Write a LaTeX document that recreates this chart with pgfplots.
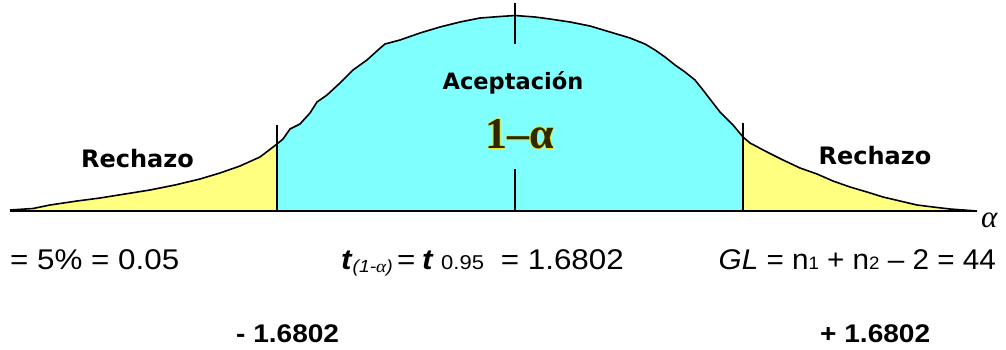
\documentclass[border=0pt]{standalone}
\usepackage{pgfplots}
\pgfplotsset{compat=1.18}
\usepackage{fontspec}
\setmainfont{Liberation Sans}
\newfontfamily\dvb{DejaVu Sans}
\newfontfamily\lserif{Liberation Serif}
\usepackage{graphicx}
\definecolor{cyanfill}{RGB}{128,255,255}
\definecolor{yelfill}{RGB}{255,255,128}
\definecolor{olivetxt}{RGB}{45,40,0}
\definecolor{glow}{RGB}{230,230,50}
\newcommand{\onealpha}{\lserif\bfseries\fontsize{44}{46}\selectfont 1–α}
\newcommand{\rowone}{\fontsize{28.5}{30}\selectfont}

\pgfplotstableread{
x y
10 211
10 210
33 208.5
50 205
77 201
100 198
125 194
150 190
175 185
200 179
220 173
240 166
260 157
277 144
277 211
}\lefttail
\pgfplotstableread{
x y
277 211
277 144
283 139
290 129
300 124
310 113
317 102
327 95
340 83
353 70
367 60
378 50
385 44
400 40
420 33
440 27
460 22
480 18
500 16.5
515 15.5
535 17
550 19
570 22
590 26
610 32
630 38
645 44
655 50
665 57
675 65
685 72
695 80
703 90
713 103
720 112
733 125
743 137
743 211
}\middlepart
\pgfplotstableread{
x y
743 211
743 137
750 143
767 152
783 160
800 168
817 174
833 181
850 187
867 192
883 197
900 201
917 205
933 207
950 209
977 211
}\righttail
\pgfplotstableread{
x y
10 210
33 208.5
50 205
77 201
100 198
125 194
150 190
175 185
200 179
220 173
240 166
260 157
277 144
283 139
290 129
300 124
310 113
317 102
327 95
340 83
353 70
367 60
378 50
385 44
400 40
420 33
440 27
460 22
480 18
500 16.5
515 15.5
535 17
550 19
570 22
590 26
610 32
630 38
645 44
655 50
665 57
675 65
685 72
695 80
703 90
713 103
720 112
733 125
743 137
750 143
767 152
783 160
800 168
817 174
833 181
850 187
867 192
883 197
900 201
917 205
933 207
950 209
977 211
}\curve

\begin{document}
\begin{tikzpicture}
\begin{axis}[
  x=1pt, y=1pt, scale only axis,
  xmin=0, xmax=1006, ymin=0, ymax=349,
  y dir=reverse, hide axis, clip=false,
]
\path (rel axis cs:0,0) rectangle (rel axis cs:1,1);
\addplot[fill=yelfill, draw=none] table {\lefttail};
\addplot[fill=cyanfill, draw=none] table {\middlepart};
\addplot[fill=yelfill, draw=none] table {\righttail};
\addplot[black, line width=1.6pt] table {\curve};
% baseline
\addplot[black, line width=2.2pt] coordinates {(10,211) (977,211)};
% vertical lines
\addplot[black, line width=1.3pt] coordinates {(277,211) (277,125)};
\addplot[black, line width=1.3pt] coordinates {(743,211) (743,123)};
\addplot[black, line width=1.3pt] coordinates {(515,3) (515,44)};
\addplot[black, line width=1.3pt] coordinates {(515,169) (515,211)};

% region labels
\node[anchor=base, inner sep=0] at (axis cs:137.5,167) {\dvb\bfseries\fontsize{24}{25}\selectfont Rechazo};
\node[anchor=base, inner sep=0] at (axis cs:875,164) {\dvb\bfseries\fontsize{24}{25}\selectfont Rechazo};
\node[anchor=base, inner sep=0] at (axis cs:513,89) {\dvb\bfseries\fontsize{22.5}{25}\selectfont Aceptación};
\node[anchor=base, inner sep=0, text=glow] at (axis cs:519,148) {\onealpha};
\node[anchor=base, inner sep=0, text=glow] at (axis cs:521,148) {\onealpha};
\node[anchor=base, inner sep=0, text=glow] at (axis cs:520,147) {\onealpha};
\node[anchor=base, inner sep=0, text=glow] at (axis cs:520,149) {\onealpha};
\node[anchor=base, inner sep=0, text=olivetxt] at (axis cs:520,148) {\onealpha};

% alpha at axis end
\node[anchor=base west, inner sep=0] at (axis cs:981,227) {\lserif\itshape\fontsize{31}{31}\selectfont α};

% row 1
\node[anchor=base west, inner sep=0] at (axis cs:10,269) {\scalebox{1.1}[1]{\rowone = 5\% = 0.05}};
\node[anchor=base west, inner sep=0] at (axis cs:341,269) {\scalebox{1.1}[1]{\rowone\textbf{\textit{t}}\raisebox{-0.2ex}{\fontsize{17.5}{20}\selectfont\itshape(1-{\lserif α})}}};
\node[anchor=base west, inner sep=0] at (axis cs:397,269) {\scalebox{1.1}[1]{\rowone =}};
\node[anchor=base west, inner sep=0] at (axis cs:422,269) {\scalebox{1.1}[1]{\rowone\textbf{\textit{t}}}};
\node[anchor=base west, inner sep=0] at (axis cs:441,269) {\scalebox{1.1}[1]{\fontsize{20}{20}\selectfont 0.95}};
\node[anchor=base east, inner sep=0] at (axis cs:624,269) {\scalebox{1.1}[1]{\rowone = 1.6802}};
\node[anchor=base east, inner sep=0] at (axis cs:996,269) {\scalebox{1.04}[1]{\rowone\textit{GL} = n{\fontsize{18}{20}\selectfont 1} + n{\fontsize{18}{20}\selectfont 2} – 2 = 44}};

% row 2
\node[anchor=base west, inner sep=0] at (axis cs:236,342) {\scalebox{1.1}[1]{\fontsize{25.5}{27}\selectfont\bfseries - 1.6802}};
\node[anchor=base west, inner sep=0] at (axis cs:820,342) {\scalebox{1.1}[1]{\fontsize{25.5}{27}\selectfont\bfseries + 1.6802}};
\end{axis}
\end{tikzpicture}
\end{document}
